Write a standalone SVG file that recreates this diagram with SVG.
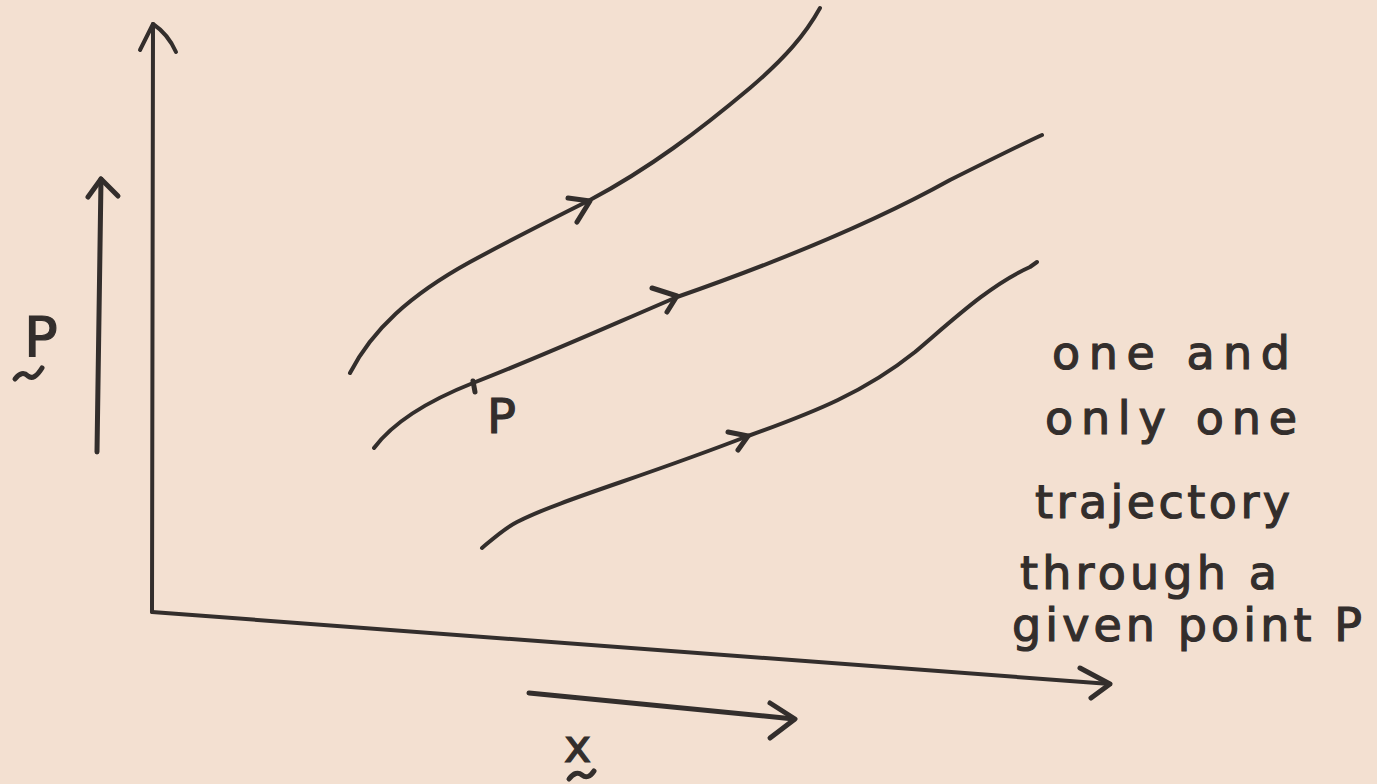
<svg xmlns="http://www.w3.org/2000/svg" width="1377" height="784" viewBox="0 0 1377 784">
  <style>
    .ink { fill: none; stroke: #332e2c; stroke-linecap: round; stroke-linejoin: round; }
    .axis { stroke-width: 4; }
    .traj { stroke-width: 4; }
    .head { stroke-width: 5; }
    .hand { font-family: "DejaVu Sans", "Liberation Sans", sans-serif; fill: #332e2c; stroke: #332e2c; stroke-width: 1.2; font-size: 46px; }
  </style>
  <rect width="1377" height="784" fill="#f3e0d1"/>

  <g id="axes">
    <path class="ink axis" d="M152,612 L153,24"/>
    <path class="ink axis" d="M140,50 L153,24 Q168,34 176,52"/>
    <path class="ink axis" d="M152,612 L1110,684"/>
    <path class="ink head" d="M1080,668 L1110,684 L1091,698"/>
  </g>

  <g id="p-direction">
    <path class="ink head" d="M97,452 L101,179"/>
    <path class="ink head" d="M88,197 L101,179 L118,196"/>
  </g>

  <g id="x-direction">
    <path class="ink head" d="M529,693 L794,719"/>
    <path class="ink head" d="M770,703 L795,719 L770,738"/>
  </g>

  <g id="connectors">
    <g id="trajectory-1">
      <path class="ink traj" d="M350,373 C372,330 410,295 470,262 C520,235 560,215 590,200 C650,168 700,130 750,88 C785,58 805,35 820,8"/>
      <path class="ink head" d="M568,198 L590,201 L577,222"/>
    </g>
    <g id="trajectory-2">
      <path class="ink traj" d="M374,448 C395,420 430,400 473,383 C540,357 600,330 677,297 C760,268 860,230 950,180 C990,160 1020,145 1042,135"/>
      <path class="ink head" d="M652,288 L677,296 L667,312"/>
    </g>
    <g id="trajectory-3">
      <path class="ink traj" d="M482,548 C495,537 505,528 517,522 C560,500 640,478 748,436 C815,412 865,392 915,352 C955,318 990,285 1030,267 L1037,262"/>
      <path class="ink head" d="M728,432 L748,436 L738,450"/>
    </g>
  </g>

  <g id="point-P">
    <path class="ink head" d="M473,381 L475,392"/>
    <text class="hand" x="487" y="433" style="font-size:48px">P</text>
  </g>

  <g id="label-p">
    <text class="hand" x="24" y="356" style="font-size:56px">P</text>
    <path class="ink head" d="M15,379 Q22,370 28,376 Q34,381 42,368"/>
  </g>

  <g id="label-x">
    <text class="hand" x="564" y="762" style="font-size:46px">x</text>
    <path class="ink head" d="M569,779 Q576,770 582,775 Q588,780 594,771"/>
  </g>

  <g id="note">
    <text class="hand" x="1052" y="369" textLength="238" lengthAdjust="spacing">one and</text>
    <text class="hand" x="1045" y="434" textLength="252" lengthAdjust="spacing">only one</text>
    <text class="hand" x="1035" y="518" textLength="255" lengthAdjust="spacing">trajectory</text>
    <text class="hand" x="1020" y="589" textLength="257" lengthAdjust="spacing">through a</text>
    <text class="hand" x="1012" y="641" textLength="350" lengthAdjust="spacing">given point P</text>
  </g>
</svg>
